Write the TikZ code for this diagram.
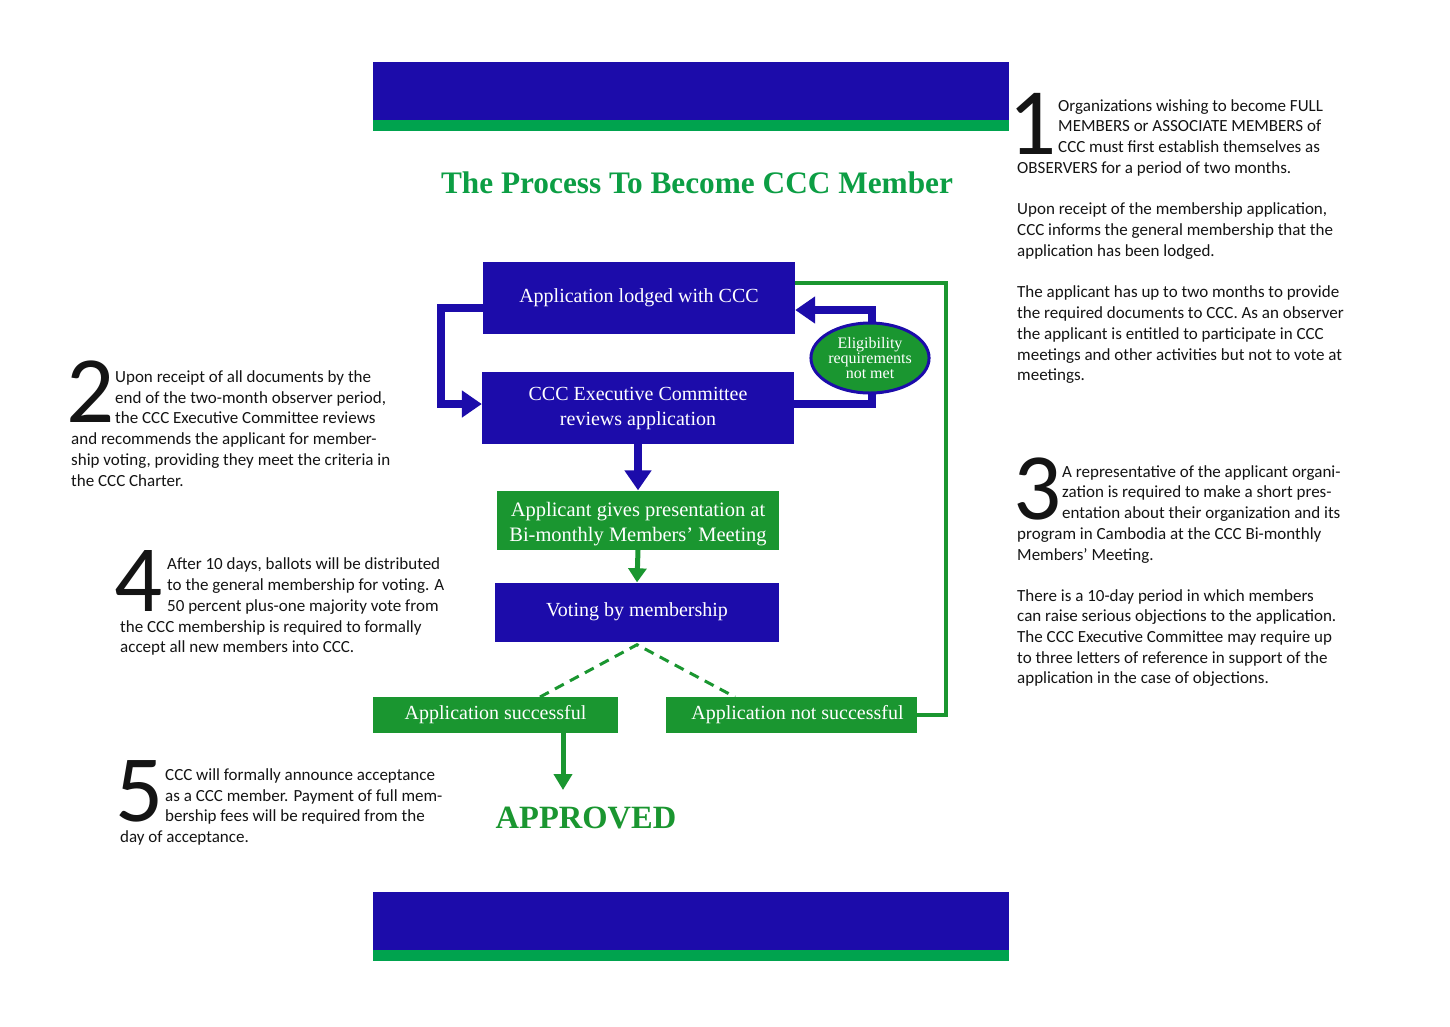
\documentclass[tikz,border=0pt]{standalone}
\usepackage{fontspec}
\setmainfont{Carlito}
\newfontfamily\seriffont{Liberation Serif}
\usetikzlibrary{arrows.meta,calc,shapes.geometric}
\definecolor{cblue}{RGB}{28,12,170}
\definecolor{gbar}{RGB}{0,163,78}
\definecolor{gbox}{RGB}{26,150,48}
\definecolor{gtitle}{RGB}{12,158,68}
\definecolor{ink}{RGB}{20,20,20}
\newcommand{\tl}[4]{\node[txt] (#1) at (#2,#3) {#4};}
\begin{document}
\begin{tikzpicture}[x=1pt,y=-1pt,
  txt/.style={anchor=base west,inner sep=0pt,text=ink,font=\fontsize{17}{19}\selectfont},
  bignum/.style={anchor=base west,inner sep=0pt,text=ink,font=\fontsize{95}{95}\selectfont},
  bluebox/.style={rectangle,fill=cblue,text=white,inner sep=0pt,align=center,font=\seriffont\fontsize{20}{25}\selectfont},
  greenbox/.style={rectangle,fill=gbox,text=white,inner sep=0pt,align=center,font=\seriffont\fontsize{20}{25}\selectfont},
  bluecon/.style={draw=cblue,line width=8pt},
  bluearr/.style={bluecon,-{Triangle[width=26pt,length=20pt]}},
  greenarr/.style={draw=gbox,line width=5pt,-{Triangle[width=18pt,length=14pt]}},
  greencon/.style={draw=gbox,line width=4pt},
  dashcon/.style={draw=gbox,line width=3pt,dash pattern=on 10pt off 7pt}]
\useasboundingbox (0,0) rectangle (1450,1026);
\fill[white] (0,0) rectangle (1450,1026);
% bars
\fill[cblue] (373,62) rectangle (1009,120);
\fill[gbar] (373,120) rectangle (1009,131);
\fill[cblue] (373,892) rectangle (1009,950);
\fill[gbar] (373,950) rectangle (1009,961);
% title
\node[text=gtitle,font=\seriffont\bfseries\fontsize{31.3}{36}\selectfont,inner sep=0pt] (title) at (697,183) {The Process To Become CCC Member};
% boxes
\node[bluebox,minimum width=312pt,minimum height=72pt] (A) at (639,298) {\raisebox{-3pt}{Application lodged with CCC}};
\node[bluebox,minimum width=312pt,minimum height=72pt] (B) at (638,408) {CCC Executive Committee\\reviews application};
\node[greenbox,minimum width=282pt,minimum height=59pt,font=\seriffont\fontsize{20.5}{24.5}\selectfont] (C) at (638,520) {\rule{0pt}{22pt}Applicant gives presentation at\\Bi-monthly Members’ Meeting};
\node[bluebox,minimum width=284pt,minimum height=59pt] (D) at (637,612) {\raisebox{-2pt}{Voting by membership}};
\node[greenbox,minimum width=245pt,minimum height=36pt] (E) at (495.5,715) {Application successful};
\node[greenbox,minimum width=251pt,minimum height=36pt] (F) at (791.5,715) {\hspace*{12pt}Application not successful};
\node[text=gbox,font=\seriffont\bfseries\fontsize{32.5}{36}\selectfont,inner sep=0pt] (appr) at (586,818) {APPROVED};
% connectors
\draw[bluearr] ($(A.west)+(0,10)$) -- (441,308) -- (441,404) -- ($(B.west)+(0,-4)$);
\draw[bluearr] ($(B.east)+(0,-4)$) -- (872,404) -- (872,310) -- ($(A.east)+(0,12)$);
\draw[bluearr] (B.south) -- (C.north);
\draw[greenarr] (C.south) -- (D.north);
\coordinate (eL) at (540,697);
\coordinate (eR) at (735,697);
\draw[dashcon] (eL) -- ($(D.south)+(0,3)$) -- (eR);
\coordinate (eArr) at (563,0);
\coordinate (aTip) at (563,790);
\draw[draw=gbox,line width=5pt,-{Triangle[width=18pt,length=16pt]}] (eArr |- E.south) -- (aTip);
\draw[greencon] (F.east) -- (946,715) -- (946,283) -- ($(A.east)+(0,-15)$);
% ellipse
\node[ellipse,fill=gbox,draw=cblue,line width=3pt,minimum width=118pt,minimum height=70pt,inner sep=0pt,text=white,align=center,font=\seriffont\fontsize{16}{15}\selectfont] (elig) at (870,358) {Eligibility\\requirements\\not met};
% block 1
\node[bignum] (n1) at (1008,154) {1};
\tl{l1a}{1058}{111}{Organizations wishing to become FULL}
\tl{l1b}{1058}{131}{MEMBERS or ASSOCIATE MEMBERS of}
\tl{l1c}{1058}{152}{CCC must first establish themselves as}
\tl{l1d}{1017}{173}{OBSERVERS for a period of two months.}
\tl{l1e}{1017}{214}{Upon receipt of the membership application,}
\tl{l1f}{1017}{235}{CCC informs the general membership that the}
\tl{l1g}{1017}{256}{application has been lodged.}
\tl{l1h}{1017}{297}{The applicant has up to two months to provide}
\tl{l1i}{1017}{318}{the required documents to CCC. As an observer}
\tl{l1j}{1017}{339}{the applicant is entitled to participate in CCC}
\tl{l1k}{1017}{360}{meetings and other activities but not to vote at}
\tl{l1l}{1017}{380}{meetings.}
% block 2
\node[bignum] (n2) at (66,422) {2};
\tl{l2a}{115}{382}{Upon receipt of all documents by the}
\tl{l2b}{115}{403}{end of the two-month observer period,}
\tl{l2c}{115}{423}{the CCC Executive Committee reviews}
\tl{l2d}{71}{444}{and recommends the applicant for member-}
\tl{l2e}{71}{465}{ship voting, providing they meet the criteria in}
\tl{l2f}{71}{486}{the CCC Charter.}
% block 3
\node[bignum] (n3) at (1013,519) {3};
\tl{l3a}{1062}{477}{A representative of the applicant organi-}
\tl{l3b}{1062}{497}{zation is required to make a short pres-}
\tl{l3c}{1062}{518}{entation about their organization and its}
\tl{l3d}{1017}{539}{program in Cambodia at the CCC Bi-monthly}
\tl{l3e}{1017}{560}{Members’ Meeting.}
\tl{l3f}{1017}{601}{There is a 10-day period in which members}
\tl{l3g}{1017}{621}{can raise serious objections to the application.}
\tl{l3h}{1017}{642}{The CCC Executive Committee may require up}
\tl{l3i}{1017}{663}{to three letters of reference in support of the}
\tl{l3j}{1017}{683}{application in the case of objections.}
% block 4
\node[bignum] (n4) at (114,611) {4};
\tl{l4a}{167}{569}{After 10 days, ballots will be distributed}
\tl{l4b}{167}{590}{to the general membership for voting. A}
\tl{l4c}{167}{611}{50 percent plus-one majority vote from}
\tl{l4d}{120}{632}{the CCC membership is required to formally}
\tl{l4e}{120}{652}{accept all new members into CCC.}
% block 5
\node[bignum] (n5) at (115,821) {5};
\tl{l5a}{165}{780}{CCC will formally announce acceptance}
\tl{l5b}{165}{801}{as a CCC member. Payment of full mem-}
\tl{l5c}{165}{821}{bership fees will be required from the}
\tl{l5d}{120}{842}{day of acceptance.}
\end{tikzpicture}
\end{document}
